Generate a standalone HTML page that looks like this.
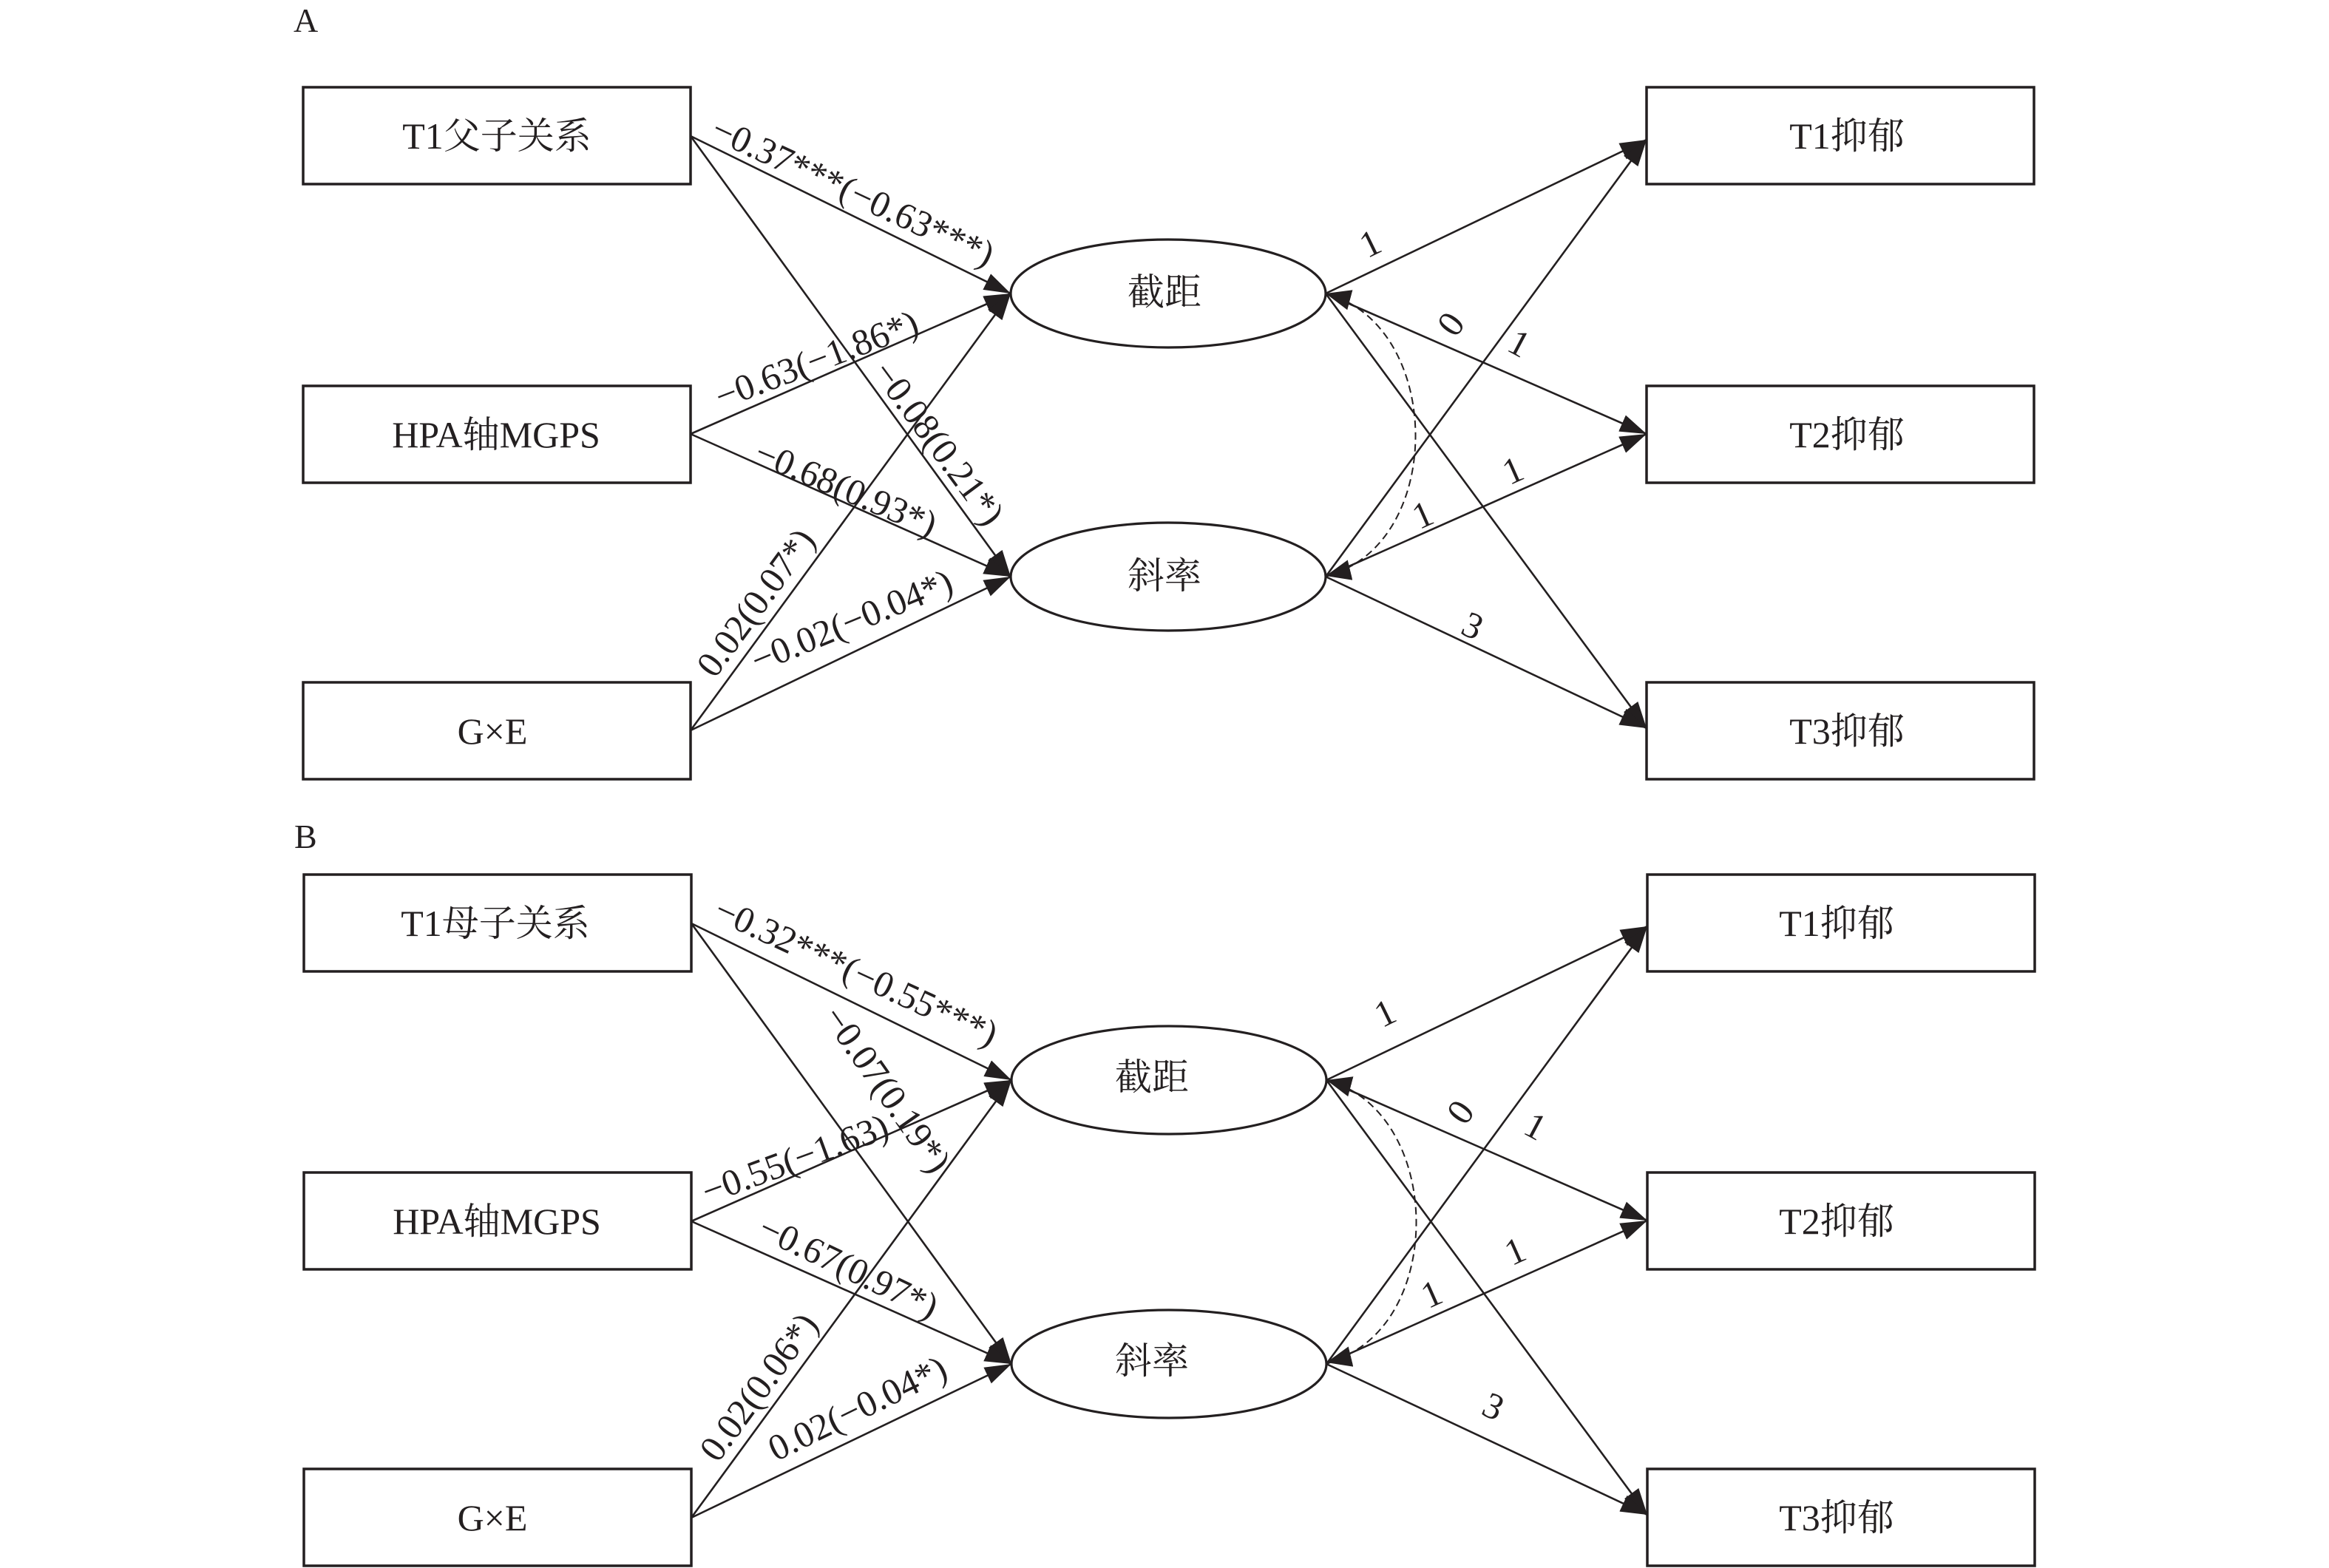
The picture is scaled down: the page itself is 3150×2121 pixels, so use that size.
<!DOCTYPE html>
<html>
<head>
<meta charset="utf-8">
<style>
html,body{margin:0;padding:0;background:#ffffff;}
svg{display:block;}
text{font-family:"Liberation Serif","Noto Serif CJK SC",serif;fill:#231f20;}
</style>
</head>
<body>
<svg width="3150" height="2121" viewBox="0 0 3150 2121" xmlns="http://www.w3.org/2000/svg">
<defs>
<marker id="ah" viewBox="0 0 36 24" refX="36" refY="12" markerWidth="36" markerHeight="24" markerUnits="userSpaceOnUse" orient="auto">
<path d="M0,0 L36,12 L0,24 Z" fill="#231f20"/>
</marker>
<marker id="dh" viewBox="0 0 34 28" refX="34" refY="14" markerWidth="34" markerHeight="28" markerUnits="userSpaceOnUse" orient="auto-start-reverse">
<path d="M0,0 L34,14 L0,28 Z" fill="#231f20"/>
</marker>
</defs>
<rect x="0" y="0" width="3150" height="2121" fill="#ffffff"/>

<!-- ===================== PANEL A ===================== -->
<text x="397" y="43" font-size="46">A</text>

<g fill="none" stroke="#231f20" stroke-width="3.5">
<rect x="410" y="118" width="524" height="131"/>
<rect x="410" y="522" width="524" height="131"/>
<rect x="410" y="923" width="524" height="131"/>
<rect x="2227" y="118" width="524" height="131"/>
<rect x="2227" y="522" width="524" height="131"/>
<rect x="2227" y="923" width="524" height="131"/>
</g>
<g fill="none" stroke="#231f20" stroke-width="3.2">
<ellipse cx="1580" cy="397" rx="213" ry="73"/>
<ellipse cx="1580" cy="780" rx="213" ry="73"/>
</g>

<g stroke="#231f20" stroke-width="2.6" fill="none" marker-end="url(#ah)">
<line x1="934" y1="184" x2="1367" y2="397"/>
<line x1="934" y1="184" x2="1367" y2="780"/>
<line x1="934" y1="587" x2="1367" y2="397"/>
<line x1="934" y1="587" x2="1367" y2="780"/>
<line x1="934" y1="988" x2="1367" y2="397"/>
<line x1="934" y1="988" x2="1367" y2="780"/>
<line x1="1793" y1="397" x2="2227" y2="189"/>
<line x1="1793" y1="397" x2="2227" y2="587"/>
<line x1="1793" y1="397" x2="2227" y2="985"/>
<line x1="1793" y1="780" x2="2227" y2="189"/>
<line x1="1793" y1="780" x2="2227" y2="587"/>
<line x1="1793" y1="780" x2="2227" y2="985"/>
</g>
<path d="M1793,397 C1955,440 1955,740 1793,779" fill="none" stroke="#231f20" stroke-width="2" stroke-dasharray="10,6" marker-start="url(#dh)" marker-end="url(#dh)"/>

<g font-size="50" text-anchor="middle" dominant-baseline="central">
<text x="672" y="184">T1父子关系</text>
<text x="671" y="588">HPA轴MGPS</text>
<text x="666" y="989">G×E</text>
<text x="2498" y="184">T1抑郁</text>
<text x="2498" y="588">T2抑郁</text>
<text x="2498" y="989">T3抑郁</text>
<text x="1575" y="395">截距</text>
<text x="1575" y="779">斜率</text>
</g>

<g font-size="50" dominant-baseline="central">
<text x="966" y="171" transform="rotate(25 966 171)">−0.37***(−0.63***)</text>
<text x="969" y="538" transform="rotate(-21 969 538)">−0.63(−1.86*)</text>
<text x="1192" y="494" transform="rotate(53.5 1192 494)">−0.08(0.21*)</text>
<text x="1024" y="609" transform="rotate(23 1024 609)">−0.68(0.93*)</text>
<text x="953" y="909" transform="rotate(-53.8 953 909)">0.02(0.07*)</text>
<text x="1018" y="895" transform="rotate(-22.5 1018 895)">−0.02(−0.04*)</text>
</g>
<g font-size="50" text-anchor="middle" dominant-baseline="central">
<text x="1853" y="329" transform="rotate(-26 1853 329)">1</text>
<text x="1962" y="438" transform="rotate(-54 1962 438)">0</text>
<text x="2055" y="464" transform="rotate(28 2055 464)">1</text>
<text x="2046" y="636" transform="rotate(-24 2046 636)">1</text>
<text x="1924" y="696" transform="rotate(-24 1924 696)">1</text>
<text x="1992" y="846" transform="rotate(25 1992 846)">3</text>
</g>

<!-- ===================== PANEL B ===================== -->
<text x="398" y="1147" font-size="46">B</text>

<g fill="none" stroke="#231f20" stroke-width="3.5">
<rect x="411" y="1183" width="524" height="131"/>
<rect x="411" y="1586" width="524" height="131"/>
<rect x="411" y="1987" width="524" height="131"/>
<rect x="2228" y="1183" width="524" height="131"/>
<rect x="2228" y="1586" width="524" height="131"/>
<rect x="2228" y="1987" width="524" height="131"/>
</g>
<g fill="none" stroke="#231f20" stroke-width="3.2">
<ellipse cx="1581" cy="1461" rx="213" ry="73"/>
<ellipse cx="1581" cy="1845" rx="213" ry="73"/>
</g>

<g stroke="#231f20" stroke-width="2.6" fill="none" marker-end="url(#ah)">
<line x1="935" y1="1249" x2="1368" y2="1461"/>
<line x1="935" y1="1249" x2="1368" y2="1845"/>
<line x1="935" y1="1652" x2="1368" y2="1461"/>
<line x1="935" y1="1652" x2="1368" y2="1845"/>
<line x1="935" y1="2053" x2="1368" y2="1461"/>
<line x1="935" y1="2053" x2="1368" y2="1845"/>
<line x1="1794" y1="1461" x2="2228" y2="1253"/>
<line x1="1794" y1="1461" x2="2228" y2="1651"/>
<line x1="1794" y1="1461" x2="2228" y2="2049"/>
<line x1="1794" y1="1845" x2="2228" y2="1253"/>
<line x1="1794" y1="1845" x2="2228" y2="1651"/>
<line x1="1794" y1="1845" x2="2228" y2="2049"/>
</g>
<path d="M1794,1461 C1956,1504 1956,1804 1794,1843" fill="none" stroke="#231f20" stroke-width="2" stroke-dasharray="10,6" marker-start="url(#dh)" marker-end="url(#dh)"/>

<g font-size="50" text-anchor="middle" dominant-baseline="central">
<text x="670" y="1249">T1母子关系</text>
<text x="672" y="1652">HPA轴MGPS</text>
<text x="666" y="2053">G×E</text>
<text x="2484" y="1249">T1抑郁</text>
<text x="2484" y="1652">T2抑郁</text>
<text x="2484" y="2053">T3抑郁</text>
<text x="1558" y="1457">截距</text>
<text x="1558" y="1841">斜率</text>
</g>

<g font-size="50" dominant-baseline="central">
<text x="970" y="1227" transform="rotate(24.8 970 1227)">−0.32***(−0.55***)</text>
<text x="1125" y="1366" transform="rotate(55 1125 1366)">−0.07(0.19*)</text>
<text x="951" y="1613" transform="rotate(-20.2 951 1613)">−0.55(−1.63)</text>
<text x="1030" y="1657" transform="rotate(25.5 1030 1657)">−0.67(0.97*)</text>
<text x="957" y="1970" transform="rotate(-53.8 957 1970)">0.02(0.06*)</text>
<text x="1042" y="1962" transform="rotate(-26 1042 1962)">0.02(−0.04*)</text>
</g>
<g font-size="50" text-anchor="middle" dominant-baseline="central">
<text x="1873" y="1370" transform="rotate(-26 1873 1370)">1</text>
<text x="1975" y="1504" transform="rotate(-54 1975 1504)">0</text>
<text x="2077" y="1523" transform="rotate(28 2077 1523)">1</text>
<text x="2049" y="1692" transform="rotate(-24 2049 1692)">1</text>
<text x="1936" y="1750" transform="rotate(-24 1936 1750)">1</text>
<text x="2020" y="1902" transform="rotate(25 2020 1902)">3</text>
</g>
</svg>
</body>
</html>
